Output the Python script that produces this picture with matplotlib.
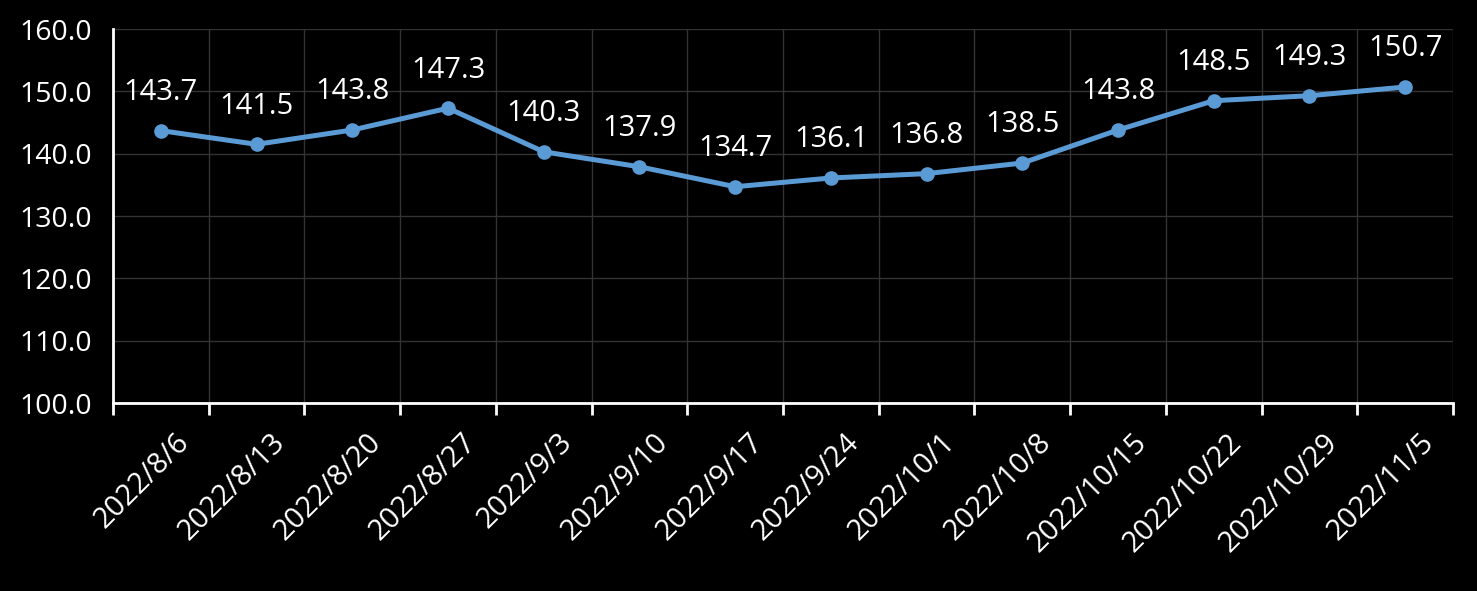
import matplotlib
matplotlib.use("Agg")
import matplotlib.pyplot as plt
from matplotlib.ticker import FixedLocator
from matplotlib.transforms import ScaledTranslation

dates = ["2022/8/6", "2022/8/13", "2022/8/20", "2022/8/27", "2022/9/3",
         "2022/9/10", "2022/9/17", "2022/9/24", "2022/10/1", "2022/10/8",
         "2022/10/15", "2022/10/22", "2022/10/29", "2022/11/5"]
values = [143.7, 141.5, 143.8, 147.3, 140.3, 137.9, 134.7,
          136.1, 136.8, 138.5, 143.8, 148.5, 149.3, 150.7]
y_ticks = [100, 110, 120, 130, 140, 150, 160]

plt.rcParams["font.family"] = ["Open Sans", "DejaVu Sans"]

fig = plt.figure(figsize=(14.77, 5.91), dpi=100, facecolor="black")
ax = fig.add_axes([0.0765, 0.3181, 0.9073, 0.6328], facecolor="black")

x = list(range(len(dates)))
ax.plot(x, values, color="#5B9BD5", lw=3.6, marker="o", ms=9.5, zorder=3)

for xi, v in zip(x, values):
    ax.annotate(f"{v:.1f}", (xi, v), xytext=(0, 17), textcoords="offset points",
                ha="center", va="bottom", color="white", fontsize=21)

ax.set_xlim(-0.5, len(dates) - 0.5)
ax.set_ylim(100, 160)
ax.set_yticks(y_ticks)
ax.set_yticklabels([f"{t:.1f}" for t in y_ticks])

# category axis: ticks and grid at boundaries, labels at centres
ax.xaxis.set_major_locator(FixedLocator([i - 0.5 for i in range(len(dates) + 1)]))
ax.xaxis.set_minor_locator(FixedLocator(x))
ax.set_xticklabels([""] * (len(dates) + 1))
ax.set_xticklabels(dates, minor=True, rotation=45, ha="right", va="top",
                   rotation_mode="anchor")
ax.tick_params(axis="x", which="major", length=8.5, width=2, color="white", direction="out")
ax.tick_params(axis="x", which="minor", length=0, pad=20, labelsize=21, labelcolor="white")
ax.tick_params(axis="y", length=0, labelsize=20.5, labelcolor="white", pad=15)

# nudge rotated labels so their ends sit at the category centres
shift = ScaledTranslation(10 / 72, 2 / 72, fig.dpi_scale_trans)
for lab in ax.xaxis.get_minorticklabels():
    lab.set_transform(lab.get_transform() + shift)

ax.grid(True, which="major", color="#333333", lw=1)
ax.set_axisbelow(True)
for s in ["top", "right"]:
    ax.spines[s].set_visible(False)
ax.spines["left"].set_color("white")
ax.spines["left"].set_linewidth(2)
ax.spines["bottom"].set_color("white")
ax.spines["bottom"].set_linewidth(2)

fig.savefig("out.png", dpi=100, facecolor="black")
